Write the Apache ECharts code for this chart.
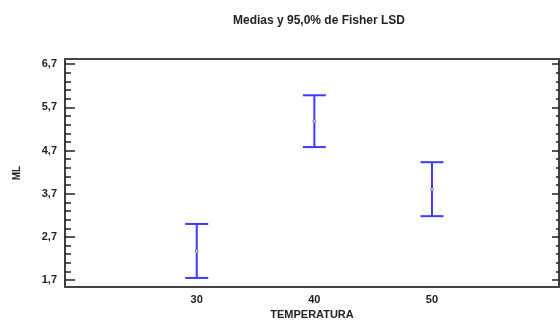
<!DOCTYPE html>
<html><head><meta charset="utf-8">
<script src="https://cdn.jsdelivr.net/npm/echarts@6/dist/echarts.min.js"></script>
<style>html,body{margin:0;padding:0;background:#fff}#c{width:560px;height:320px}</style>
</head><body><div id="c"></div>
<script>
var categories = [30, 40, 50];
var means = [2.37, 5.38, 3.80];
var lower = [1.75, 4.78, 3.18];
var upper = [3.00, 5.98, 4.43];
var yMajor = [1.7, 2.7, 3.7, 4.7, 5.7, 6.7];
var yMajorLabels = ['1,7', '2,7', '3,7', '4,7', '5,7', '6,7'];
var yMinor = [1.9, 2.1, 2.3, 2.5, 2.9, 3.1, 3.3, 3.5, 3.9, 4.1, 4.3, 4.5, 4.9, 5.1, 5.3, 5.5, 5.9, 6.1, 6.3, 6.5];
var title = 'Medias y 95,0% de Fisher LSD';
var xName = 'TEMPERATURA';
var yName = 'ML';

var FONT = 'Liberation Sans';
var YMIN = 1.54, YMAX = 6.82, XMIN = 18.8, XMAX = 60.8;
var axisCol = '#333';

function yAx(pos, ticks, len, labels) {
  return {
    type: 'value', position: pos, min: YMIN, max: YMAX,
    axisLine: {show: true, lineStyle: {color: axisCol, width: 1.5}},
    axisTick: {show: true, inside: true, length: len, customValues: ticks, lineStyle: {color: '#222', width: 1.5}},
    axisLabel: labels ? {show: true, customValues: ticks, formatter: function (v) {
      var i = yMajor.findIndex(function (t) { return Math.abs(t - v) < 1e-6; });
      return i >= 0 ? yMajorLabels[i] : '';
    }, fontFamily: FONT, fontWeight: 'bold', fontSize: 11, color: '#222', margin: 8} : {show: false},
    splitLine: {show: false}
  };
}

var chart = echarts.init(document.getElementById('c'));
chart.setOption({
  animation: false,
  title: {text: title, left: 314, textAlign: 'center', top: 10,
    textStyle: {fontFamily: FONT, fontWeight: 'bold', fontSize: 12, color: '#222'}},
  grid: {left: 65, right: 1, top: 59, bottom: 33, outerBoundsMode: 'none', containLabel: false},
  xAxis: [{
    type: 'value', min: XMIN, max: XMAX, position: 'bottom',
    axisLine: {show: true, lineStyle: {color: '#444', width: 2}},
    axisTick: {show: false},
    axisLabel: {show: true, customValues: categories, fontFamily: FONT, fontWeight: 'bold', fontSize: 11, color: '#222', margin: 7},
    splitLine: {show: false},
    name: xName, nameLocation: 'middle', nameGap: 21,
    nameTextStyle: {fontFamily: FONT, fontWeight: 'bold', fontSize: 11, color: '#222'}
  }, {
    type: 'value', min: XMIN, max: XMAX, position: 'top',
    axisLine: {show: true, lineStyle: {color: '#444', width: 2}},
    axisTick: {show: false}, axisLabel: {show: false}, splitLine: {show: false}
  }],
  yAxis: [
    Object.assign(yAx('left', yMajor, 10, true), {name: yName, nameLocation: 'middle', nameGap: 43,
      nameTextStyle: {fontFamily: FONT, fontWeight: 'bold', fontSize: 10, color: '#222'}}),
    yAx('left', yMinor, 6, false),
    yAx('right', yMajor, 7, false),
    yAx('right', yMinor, 3, false)
  ],
  series: [{
    type: 'custom',
    data: categories.map(function (c, i) { return [c, lower[i], upper[i]]; }),
    renderItem: function (params, api) {
      var lo = api.coord([api.value(0), api.value(1)]);
      var hi = api.coord([api.value(0), api.value(2)]);
      var hw = 11.5;
      var st = {stroke: '#3b3bff', lineWidth: 2};
      return {type: 'group', children: [
        {type: 'line', shape: {x1: lo[0], y1: lo[1], x2: hi[0], y2: hi[1]}, style: st},
        {type: 'line', shape: {x1: lo[0] - hw, y1: lo[1], x2: lo[0] + hw, y2: lo[1]}, style: st},
        {type: 'line', shape: {x1: hi[0] - hw, y1: hi[1], x2: hi[0] + hw, y2: hi[1]}, style: st}
      ]};
    },
    z: 2
  }, {
    type: 'scatter',
    data: categories.map(function (c, i) { return [c, means[i]]; }),
    symbol: 'circle', symbolSize: 3,
    itemStyle: {color: '#fff', borderColor: '#666633', borderWidth: 1},
    z: 3
  }]
});
</script></body></html>
